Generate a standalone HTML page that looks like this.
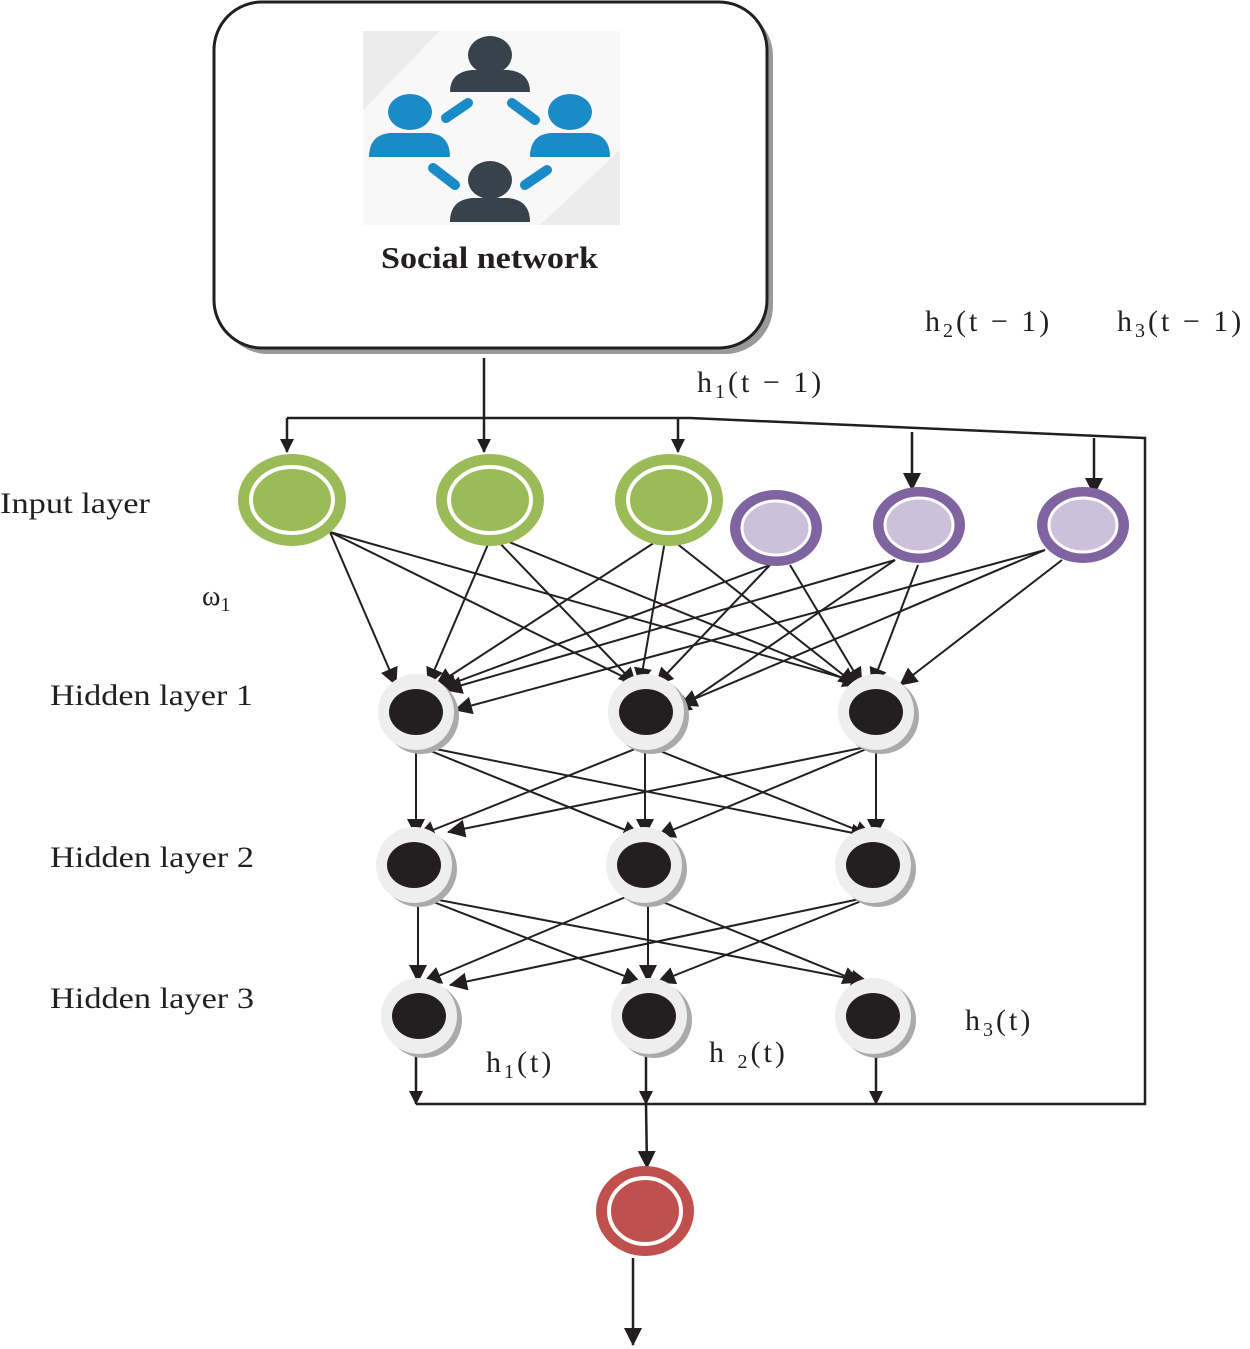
<!DOCTYPE html>
<html><head><style>body{margin:0;background:#fff}svg{display:block}text{font-family:"Liberation Serif",serif;fill:#231f20}</style></head><body>
<svg width="1250" height="1349" viewBox="0 0 1250 1349">
<defs><marker id="a" markerWidth="14" markerHeight="14" refX="13" refY="7" orient="auto" markerUnits="userSpaceOnUse" viewBox="0 0 14 14"><path d="M0,0 L14,7 L0,14z" fill="#231f20"/></marker>
<marker id="b" markerWidth="18" markerHeight="18" refX="17" refY="9" orient="auto" markerUnits="userSpaceOnUse" viewBox="0 0 18 18"><path d="M0,0 L18,9 L0,18z" fill="#231f20"/></marker></defs>
<rect x="220" y="8" width="553" height="346" rx="48" fill="#999"/>
<rect x="214" y="2" width="553" height="346" rx="48" fill="#fff" stroke="#231f20" stroke-width="3"/>
<rect x="363" y="31" width="257" height="194" fill="#ececec"/>
<polygon points="440,31 620,31 620,150 540,225 363,225 363,110" fill="#f8f8f8"/>
<g fill="#37424a"><ellipse cx="490" cy="55" rx="22" ry="19"/><path d="M450,92 Q450,72 472,70 L508,70 Q530,72 530,92z"/><ellipse cx="490" cy="180" rx="22" ry="19"/><path d="M450,222 Q450,200 472,198 L508,198 Q530,200 530,222z"/></g>
<g fill="#1a8bc6"><ellipse cx="410" cy="112" rx="22" ry="18"/><path d="M369,157 Q369,135 390,133 L430,133 Q450,135 450,157z"/><ellipse cx="570" cy="112" rx="22" ry="18"/><path d="M530,157 Q530,135 550,133 L590,133 Q610,135 610,157z"/></g>
<g stroke="#1a8bc6" stroke-width="10" stroke-linecap="round"><line x1="446" y1="118" x2="468" y2="103"/><line x1="512" y1="103" x2="535" y2="120"/><line x1="433" y1="168" x2="455" y2="185"/><line x1="525" y1="185" x2="547" y2="170"/></g>
<text x="381" y="268" font-size="31" font-weight="bold" textLength="217" lengthAdjust="spacingAndGlyphs">Social network</text>
<text x="0" y="513" font-size="30" textLength="150" lengthAdjust="spacingAndGlyphs">Input layer</text>
<text x="50" y="705" font-size="30" textLength="203" lengthAdjust="spacingAndGlyphs">Hidden layer 1</text>
<text x="50" y="867" font-size="30" textLength="204" lengthAdjust="spacingAndGlyphs">Hidden layer 2</text>
<text x="50" y="1008" font-size="30" textLength="204" lengthAdjust="spacingAndGlyphs">Hidden layer 3</text>
<text x="202" y="605" font-size="28">ω<tspan font-size="20" dy="6">1</tspan></text>
<text x="697" y="392" font-size="30" letter-spacing="3">h<tspan font-size="20" dy="6">1</tspan><tspan dy="-6">(t − 1)</tspan></text>
<text x="925" y="331" font-size="30" letter-spacing="3">h<tspan font-size="20" dy="6">2</tspan><tspan dy="-6">(t − 1)</tspan></text>
<text x="1117" y="331" font-size="30" letter-spacing="3">h<tspan font-size="20" dy="6">3</tspan><tspan dy="-6">(t − 1)</tspan></text>
<text x="486" y="1072" font-size="30" letter-spacing="3">h<tspan font-size="20" dy="6">1</tspan><tspan dy="-6">(t)</tspan></text>
<text x="709" y="1062" font-size="30" letter-spacing="3">h <tspan font-size="20" dy="6">2</tspan><tspan dy="-6">(t)</tspan></text>
<text x="965" y="1030" font-size="30" letter-spacing="3">h<tspan font-size="20" dy="6">3</tspan><tspan dy="-6">(t)</tspan></text>
<g stroke="#231f20" stroke-width="2.5" fill="none">
<line x1="484" y1="358" x2="484" y2="452" marker-end="url(#a)"/>
<polyline points="287,418 690,418 1145,438 1145,1104 416,1104"/>
<line x1="287" y1="418" x2="287" y2="452" marker-end="url(#a)"/>
<line x1="678" y1="418" x2="678" y2="452" marker-end="url(#a)"/>
<line x1="912" y1="432" x2="912" y2="490" marker-end="url(#b)"/>
<line x1="1094" y1="438" x2="1094" y2="495" marker-end="url(#b)"/>
<line x1="416" y1="1050" x2="416" y2="1104" marker-end="url(#a)"/>
<line x1="646" y1="1050" x2="646" y2="1104" marker-end="url(#a)"/>
<line x1="876" y1="1050" x2="876" y2="1104" marker-end="url(#a)"/>
<line x1="646" y1="1104" x2="647" y2="1168" marker-end="url(#b)"/>
<line x1="633" y1="1258" x2="633" y2="1345" marker-end="url(#b)"/>
</g>
<g stroke="#231f20" stroke-width="2" marker-end="url(#b)">
<line x1="330" y1="532" x2="396" y2="685"/><line x1="330" y1="532" x2="640" y2="685"/><line x1="330" y1="532" x2="868" y2="685"/>
<line x1="492" y1="535" x2="428" y2="685"/><line x1="492" y1="535" x2="636" y2="685"/><line x1="492" y1="535" x2="860" y2="685"/>
<line x1="666" y1="535" x2="436" y2="685"/><line x1="666" y1="535" x2="640" y2="685"/><line x1="666" y1="535" x2="856" y2="685"/>
<line x1="770" y1="565" x2="440" y2="688"/><line x1="770" y1="565" x2="656" y2="685"/><line x1="790" y1="565" x2="862" y2="685"/>
<line x1="895" y1="560" x2="445" y2="690"/><line x1="895" y1="560" x2="674" y2="712"/><line x1="918" y1="565" x2="872" y2="685"/>
<line x1="1045" y1="550" x2="455" y2="710"/><line x1="1045" y1="550" x2="680" y2="705"/><line x1="1062" y1="560" x2="900" y2="685"/>
<line x1="416" y1="745" x2="416" y2="836"/><line x1="416" y1="745" x2="640" y2="836"/><line x1="416" y1="745" x2="868" y2="836"/>
<line x1="645" y1="745" x2="418" y2="836"/><line x1="645" y1="745" x2="645" y2="836"/><line x1="645" y1="745" x2="872" y2="836"/>
<line x1="876" y1="745" x2="448" y2="832"/><line x1="876" y1="745" x2="658" y2="836"/><line x1="876" y1="745" x2="876" y2="836"/>
<line x1="418" y1="896" x2="418" y2="982"/><line x1="418" y1="896" x2="640" y2="982"/><line x1="418" y1="896" x2="868" y2="982"/>
<line x1="628" y1="896" x2="424" y2="982"/><line x1="648" y1="896" x2="648" y2="982"/><line x1="648" y1="896" x2="860" y2="982"/>
<line x1="874" y1="896" x2="450" y2="985"/><line x1="874" y1="896" x2="658" y2="982"/>
</g>
<g fill="#9bbb59"><ellipse cx="292" cy="500" rx="54" ry="46"/><ellipse cx="490" cy="500" rx="54" ry="46"/><ellipse cx="669" cy="500" rx="54" ry="46"/></g>
<g fill="none" stroke="#fff" stroke-width="4"><ellipse cx="292" cy="500" rx="41" ry="33"/><ellipse cx="490" cy="500" rx="41" ry="33"/><ellipse cx="669" cy="500" rx="41" ry="33"/></g>
<g fill="#8064a2"><ellipse cx="776" cy="528" rx="46" ry="38"/><ellipse cx="919" cy="525" rx="46" ry="38"/><ellipse cx="1083" cy="525" rx="46" ry="38"/></g>
<g fill="#ccc0da" stroke="#fff" stroke-width="3"><ellipse cx="776" cy="528" rx="34" ry="27"/><ellipse cx="919" cy="525" rx="34" ry="27"/><ellipse cx="1083" cy="525" rx="34" ry="27"/></g>
<g fill="#aaa"><circle cx="421" cy="716" r="38"/><circle cx="651" cy="716" r="38"/><circle cx="881" cy="716" r="38"/><circle cx="419" cy="869" r="38"/><circle cx="649" cy="869" r="38"/><circle cx="878" cy="869" r="38"/><circle cx="424" cy="1020" r="38"/><circle cx="654" cy="1020" r="38"/><circle cx="878" cy="1020" r="38"/></g>
<g fill="#eee"><circle cx="416" cy="712" r="38"/><circle cx="646" cy="712" r="38"/><circle cx="876" cy="712" r="38"/><circle cx="414" cy="865" r="38"/><circle cx="644" cy="865" r="38"/><circle cx="873" cy="865" r="38"/><circle cx="419" cy="1016" r="38"/><circle cx="649" cy="1016" r="38"/><circle cx="873" cy="1016" r="38"/></g>
<g fill="#231f20"><ellipse cx="416" cy="712" rx="27" ry="23"/><ellipse cx="646" cy="712" rx="27" ry="23"/><ellipse cx="876" cy="712" rx="27" ry="23"/><ellipse cx="414" cy="865" rx="27" ry="23"/><ellipse cx="644" cy="865" rx="27" ry="23"/><ellipse cx="873" cy="865" rx="27" ry="23"/><ellipse cx="419" cy="1016" rx="27" ry="23"/><ellipse cx="649" cy="1016" rx="27" ry="23"/><ellipse cx="873" cy="1016" rx="27" ry="23"/></g>
<ellipse cx="645" cy="1211" rx="49" ry="45" fill="#c0504d"/>
<ellipse cx="645" cy="1211" rx="36" ry="33" fill="none" stroke="#fff" stroke-width="4"/>
</svg>
</body></html>
